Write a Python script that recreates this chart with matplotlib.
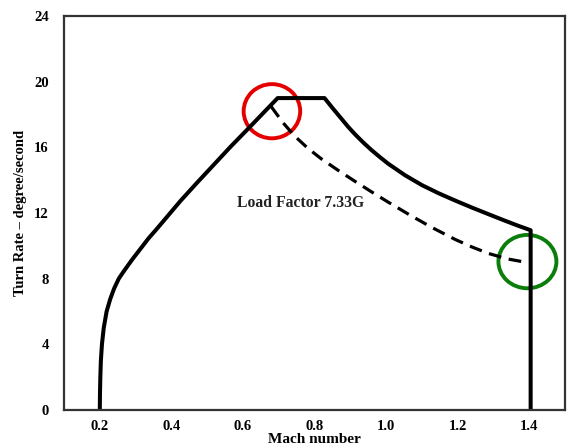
import matplotlib
matplotlib.use('Agg')
import matplotlib.pyplot as plt
from matplotlib.patches import Ellipse

# Turn rate envelope (solid)
mach_env = [0.200, 0.2005, 0.2015, 0.203, 0.206, 0.211, 0.219, 0.229, 0.240, 0.253,
            0.267, 0.290, 0.313, 0.336, 0.360, 0.393, 0.426, 0.472, 0.519, 0.566,
            0.613, 0.655, 0.697, 0.828, 0.852, 0.875, 0.894, 0.913, 0.936, 0.960,
            0.983, 1.006, 1.053, 1.100, 1.147, 1.194, 1.240, 1.287, 1.330, 1.372,
            1.390, 1.404, 1.404]
rate_env = [0.0, 1.0, 2.0, 3.0, 4.0, 5.0, 6.0, 6.75, 7.4, 8.0,
            8.45, 9.15, 9.8, 10.45, 11.05, 11.9, 12.75, 13.85, 14.95, 16.05,
            17.1, 18.05, 19.0, 19.0, 18.35, 17.75, 17.25, 16.8, 16.3, 15.82,
            15.4, 15.0, 14.3, 13.7, 13.2, 12.75, 12.33, 11.92, 11.55, 11.2,
            11.06, 10.95, 0.0]

# Load factor 7.33G line (dashed)
mach_lf = [0.679, 0.712, 0.744, 0.781, 0.819, 0.866, 0.913, 0.960, 1.006, 1.067,
           1.128, 1.194, 1.240, 1.287, 1.340, 1.390]
rate_lf = [18.48, 17.5, 16.7, 15.95, 15.3, 14.6, 13.93, 13.28, 12.66, 11.87,
           11.12, 10.38, 9.93, 9.53, 9.2, 9.0]

# highlighted points
red_pt = (0.681, 18.2)
green_pt = (1.395, 9.04)

x_ticks = [0.2, 0.4, 0.6, 0.8, 1.0, 1.2, 1.4]
y_ticks = [0, 4, 8, 12, 16, 20, 24]

plt.rcParams['font.family'] = ['Liberation Serif', 'DejaVu Serif']
plt.rcParams['font.weight'] = 'bold'

fig = plt.figure(figsize=(5.68, 4.48), dpi=100)
ax = fig.add_axes([0.1127, 0.0848, 0.882, 0.8795])

ax.plot(mach_env, rate_env, color='black', lw=2.9, solid_joinstyle='round')
ax.plot(mach_lf, rate_lf, color='black', lw=2.3, linestyle=(0, (4.0, 2.4)))

ax.add_patch(Ellipse(red_pt, 0.158, 3.3, fill=False, edgecolor='#e50000', lw=2.8))
ax.add_patch(Ellipse(green_pt, 0.162, 3.25, fill=False, edgecolor='#0a7d0a', lw=2.8))

ax.text(0.76, 12.6, 'Load Factor 7.33G', ha='center', va='center',
        fontsize=11.3, fontweight='bold', color='#222222')

ax.set_xlim(0.1, 1.5)
ax.set_ylim(0, 24)
ax.set_xticks(x_ticks)
ax.set_xticklabels(['%.1f' % v for v in x_ticks])
ax.set_yticks(y_ticks)
ax.tick_params(length=0, labelsize=10.5)
ax.tick_params(axis='x', pad=7)
ax.tick_params(axis='y', pad=11)
for lbl in ax.get_xticklabels() + ax.get_yticklabels():
    lbl.set_fontweight('bold')

for s in ax.spines.values():
    s.set_linewidth(1.6)
    s.set_color('#333333')

ax.set_xlabel('Mach number', fontsize=11, fontweight='bold', labelpad=0)
ax.set_ylabel('Turn Rate \u2013 degree/second', fontsize=10.5, fontweight='bold')
ax.yaxis.set_label_coords(-0.074, 0.5)

fig.savefig('out.png', dpi=100)
